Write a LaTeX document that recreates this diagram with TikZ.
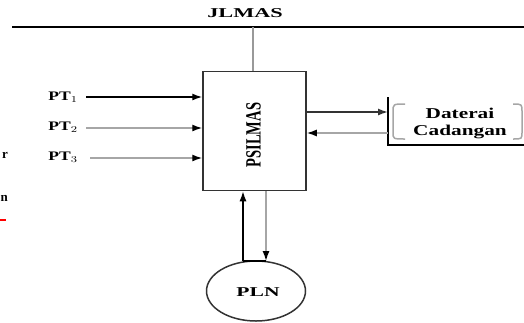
\documentclass[tikz,border=0pt]{standalone}
\usepackage{fontspec}
\usepackage{graphicx}
\setmainfont{Liberation Serif}
\usetikzlibrary{arrows.meta,shapes.geometric}
\newcommand\sxx[2]{\scalebox{#1}[1]{#2}}
\begin{document}
\begin{tikzpicture}[x=1pt,y=-1pt,
  lbl/.style={inner sep=0pt,font=\bfseries},
  arr/.style={line width=1.4pt,-{Latex[length=10pt,width=7pt]}},
  lightarr/.style={line width=1.4pt,draw=gray!70,-{Latex[length=10pt,width=7pt,color=black]}}]
\useasboundingbox (0,0) rectangle (524,322);
% bus
\coordinate (busL) at (12,27);
\coordinate (busR) at (524,27);
\coordinate (busT) at (253,27);
\node[lbl,font=\fontsize{13.5}{14}\selectfont\bfseries] (jlmas) at (245,13) {\sxx{1.65}{JLMAS}};
\draw[line width=1.6pt] (busL) -- (busR);
% main box
\node[draw=black!80,line width=1.5pt,minimum width=103pt,minimum height=119pt,inner sep=0pt] (psu) at (254.5,131) {};
\node[lbl,rotate=90,font=\fontsize{14.5}{15}\selectfont\bfseries] (psutxt) at (253.5,135) {\scalebox{1}[1.5]{PSILMAS}};
\draw[line width=1.8pt,draw=gray!80] (busT) -- (busT |- psu.north);
% PT inputs
\node[lbl,anchor=east,font=\fontsize{13}{14}\selectfont\bfseries] (pt1) at (78,97) {\sxx{1.35}{PT$_1$}};
\node[lbl,anchor=east,font=\fontsize{13}{14}\selectfont\bfseries] (pt2) at (78,127) {\sxx{1.35}{PT$_2$}};
\node[lbl,anchor=east,font=\fontsize{13}{14}\selectfont\bfseries] (pt3) at (78,157) {\sxx{1.35}{PT$_3$}};
\coordinate (s1) at (86,97);
\coordinate (s2) at (86,128);
\coordinate (s3) at (90,158);
\draw[arr] (s1) -- (s1 -| psu.west);
\draw[lightarr] (s2) -- (s2 -| psu.west);
\draw[lightarr] (s3) -- (s3 -| psu.west);
% left fragments
\node[lbl,anchor=east,font=\fontsize{13}{14}\selectfont\bfseries] (fragA) at (8,155) {r};
\node[lbl,anchor=east,font=\fontsize{13}{14}\selectfont\bfseries] (fragB) at (8,198) {n};
\coordinate (redA) at (0,220);
\coordinate (redB) at (6,220);
\draw[red,line width=2.5pt] (redA) -- (redB);
% battery
\coordinate (batL) at (388,97);
\coordinate (batB) at (388,145);
\coordinate (batR) at (524,145);
\draw[line width=1.5pt] (batL) -- (batB) -- (batR);
\node[lbl,align=center,font=\fontsize{15}{17}\selectfont\bfseries] (bat) at (460,123) {\sxx{1.42}{Daterai}\\\sxx{1.42}{Cadangan}};
\draw[gray!70,line width=1.5pt] (405,104) .. controls (393,104) and (393,104) .. (393,112) -- (393,132) .. controls (393,139) and (393,139) .. (405,139);
\draw[gray!70,line width=1.5pt] (513,104) .. controls (522,104) and (522,104) .. (522,112) -- (522,132) .. controls (522,139) and (522,139) .. (513,139);
\coordinate (o1) at (306,112);
\coordinate (i1) at (388,133);
\draw[arr,draw=black!80] (o1 -| psu.east) -- (batL |- o1);
\draw[lightarr] (i1) -- (i1 -| psu.east);
% PLN
\node[draw=black!80,ellipse,line width=1.5pt,minimum width=99pt,minimum height=60pt,inner sep=0pt] (pln) at (256,291) {};
\node[lbl,font=\fontsize{13.5}{14}\selectfont\bfseries] (plntxt) at (258,292) {\sxx{1.6}{PLN}};
\coordinate (u1) at (243,261);
\coordinate (d1) at (266,261);
\draw[arr] (u1) -- (u1 |- psu.south);
\draw[lightarr] (d1 |- psu.south) -- (d1);
\draw[line width=1.5pt] (u1) -- (d1);
\end{tikzpicture}
\end{document}
